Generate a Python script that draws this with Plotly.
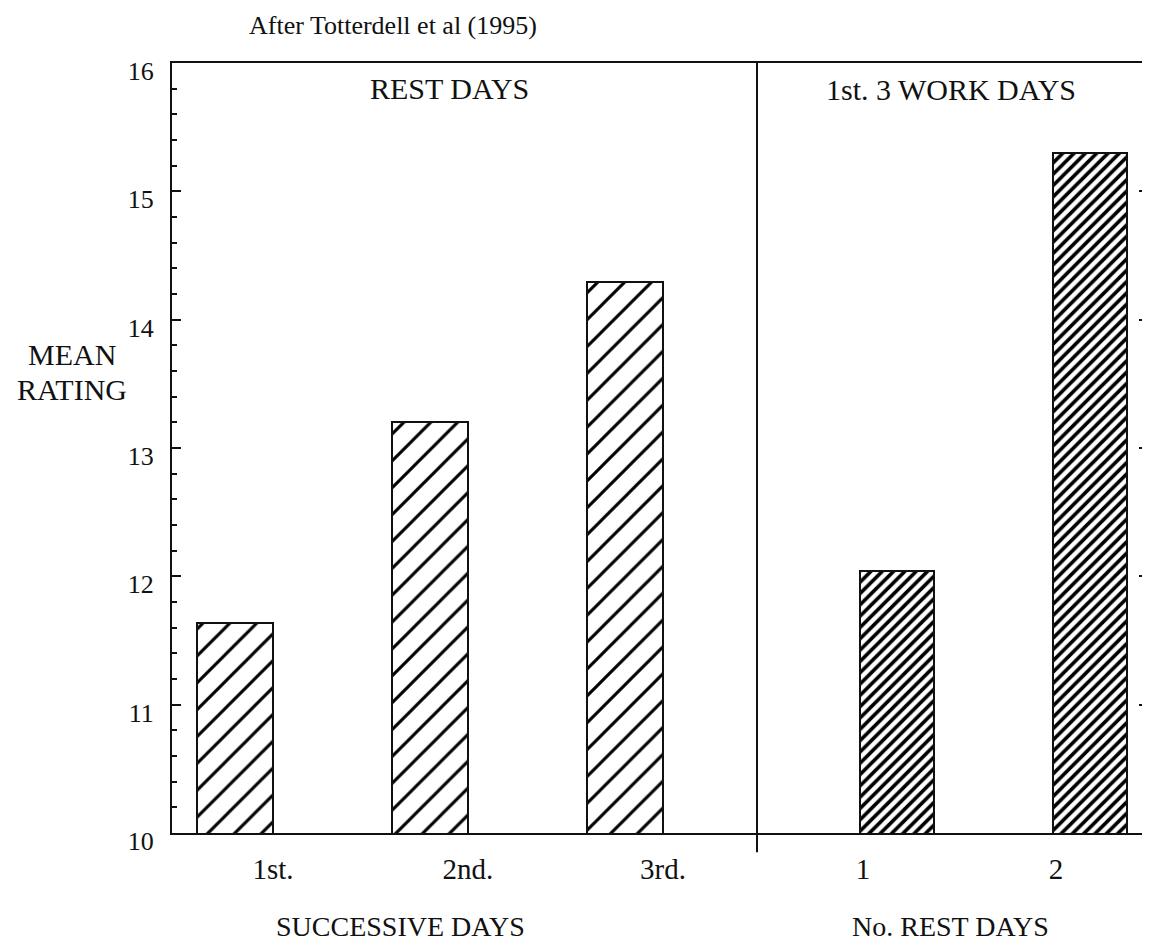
import plotly.graph_objects as go
from plotly.subplots import make_subplots

# Mean rating on successive rest days and on the first 3 work days
rest_day_labels = ["1st.", "2nd.", "3rd."]
rest_day_ratings = [11.64, 13.20, 14.29]

rest_count_labels = ["1", "2"]
work_day_ratings = [12.04, 15.30]

y_ticks = [10, 11, 12, 13, 14, 15, 16]

SERIF = "Liberation Serif"
INK = "#111111"

fig = make_subplots(
    rows=1,
    cols=2,
    shared_yaxes=True,
    column_widths=[585, 391],
    horizontal_spacing=0,
)

fig.add_trace(
    go.Bar(
        x=rest_day_labels,
        y=rest_day_ratings,
        width=0.385,
        marker=dict(
            color="white",
            line=dict(color=INK, width=2),
            pattern=dict(shape="/", size=19, solidity=0.16, fgcolor="black", bgcolor="white", fgopacity=1),
        ),
        showlegend=False,
    ),
    row=1,
    col=1,
)
fig.add_trace(
    go.Bar(
        x=rest_count_labels,
        y=work_day_ratings,
        width=0.385,
        marker=dict(
            color="white",
            line=dict(color=INK, width=2),
            pattern=dict(shape="/", size=8, solidity=0.45, fgcolor="black", bgcolor="white", fgopacity=1),
        ),
        showlegend=False,
    ),
    row=1,
    col=2,
)

axis_common = dict(showline=True, linecolor=INK, linewidth=2, showgrid=False, zeroline=False)

fig.update_xaxes(
    type="category",
    ticks="",
    mirror=True,
    tickfont=dict(family=SERIF, size=29, color=INK),
    ticklabelstandoff=9,
    **axis_common,
)
fig.update_xaxes(range=[-0.323, 2.677], ticklabelshift=38, row=1, col=1)
fig.update_xaxes(range=[-0.725, 1.301], ticklabelshift=-34, row=1, col=2)

fig.update_yaxes(
    range=[10, 16],
    tickvals=y_ticks,
    ticks="inside",
    ticklen=9,
    tickwidth=2,
    tickcolor=INK,
    tickfont=dict(family=SERIF, size=26, color=INK),
    minor=dict(ticks="inside", dtick=0.2, ticklen=5, tickwidth=1.5, tickcolor=INK),
    **axis_common,
)
fig.update_yaxes(ticklabelstandoff=11, ticklabelshift=8, row=1, col=1)
fig.update_yaxes(side="right", showticklabels=False, row=1, col=2)

# divider between the two panels, running a little below the axis
fig.add_shape(
    type="line",
    xref="paper",
    yref="paper",
    x0=585 / 976,
    x1=585 / 976,
    y0=-0.025,
    y1=1,
    line=dict(color=INK, width=2),
)


def label(text, x, y, size, xref="paper", xanchor="center"):
    fig.add_annotation(
        text=text,
        xref=xref,
        yref="paper",
        x=x,
        y=y,
        xanchor=xanchor,
        yanchor="middle",
        showarrow=False,
        font=dict(family=SERIF, size=size, color=INK),
    )


label("REST DAYS", 0.475, 0.9675, 30, xref="x domain")
label("1st. 3 WORK DAYS", 0.496, 0.966, 30, xref="x2 domain")
label("SUCCESSIVE DAYS", 0.391, -0.122, 28, xref="x domain")
label("No. REST DAYS", 0.494, -0.122, 28, xref="x2 domain")
label("MEAN", -0.1025, 0.622, 30)
label("RATING", -0.1025, 0.576, 30)
label("After Totterdell et al (1995)", 0.077, 1.049, 26, xanchor="left")

fig.update_layout(
    width=1150,
    height=942,
    margin=dict(l=164, r=10, t=55, b=117),
    plot_bgcolor="white",
    paper_bgcolor="white",
    bargap=0,
    font=dict(family=SERIF, color=INK),
)

fig.write_html("out.html")
